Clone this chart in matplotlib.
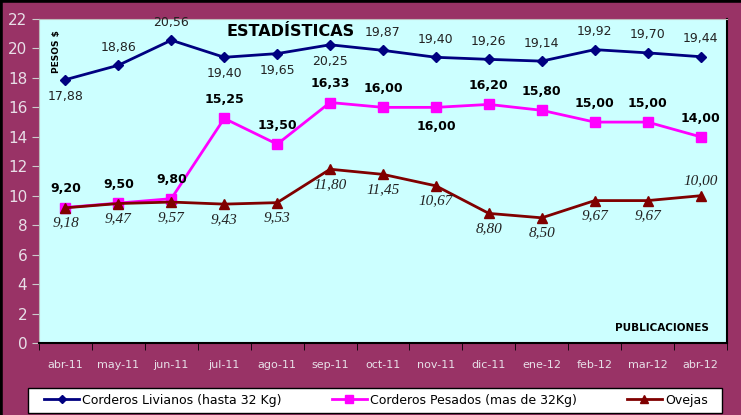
import matplotlib
matplotlib.use("Agg")
import matplotlib.pyplot as plt
from matplotlib.lines import Line2D
from matplotlib.patches import Rectangle

months = ["abr-11", "may-11", "jun-11", "jul-11", "ago-11", "sep-11", "oct-11",
          "nov-11", "dic-11", "ene-12", "feb-12", "mar-12", "abr-12"]
livianos = [17.88, 18.86, 20.56, 19.40, 19.65, 20.25, 19.87, 19.40, 19.26, 19.14, 19.92, 19.70, 19.44]
pesados = [9.20, 9.50, 9.80, 15.25, 13.50, 16.33, 16.00, 16.00, 16.20, 15.80, 15.00, 15.00, 14.00]
ovejas = [9.18, 9.47, 9.57, 9.43, 9.53, 11.80, 11.45, 10.67, 8.80, 8.50, 9.67, 9.67, 10.00]

# label above (1) or below (-1)
liv_pos = [-1, 1, 1, -1, -1, -1, 1, 1, 1, 1, 1, 1, 1]
pes_pos = [1, 1, 1, 1, 1, 1, 1, -1, 1, 1, 1, 1, 1]
ove_pos = [-1] * 12 + [1]

BG = "#993366"
PLOT_BG = "#ccffff"
TICK_C = "#e8e0e8"

fig = plt.figure(figsize=(7.41, 4.15), dpi=100)
fig.patch.set_facecolor(BG)
ax = fig.add_axes([39 / 741, 1 - 343 / 415, (727 - 39) / 741, (343 - 19) / 415])
ax.set_facecolor(PLOT_BG)

x = list(range(len(months)))
ax.plot(x, livianos, color="#000080", lw=2, marker="D", ms=5, label="Corderos Livianos (hasta 32 Kg)")
ax.plot(x, pesados, color="#ff00ff", lw=2, marker="s", ms=7, label="Corderos Pesados (mas de 32Kg)")
ax.plot(x, ovejas, color="#800000", lw=2, marker="^", ms=7, label="Ovejas")

def fmt(v):
    return f"{v:.2f}".replace(".", ",")

for xi, v, p in zip(x, livianos, liv_pos):
    ax.annotate(fmt(v), (xi, v), xytext=(0, (13 if p > 0 else 12) * p), textcoords="offset points",
                ha="center", va="center", fontsize=9, color="#222222")
for xi, v, p in zip(x, pesados, pes_pos):
    ax.annotate(fmt(v), (xi, v), xytext=(0, 13.5 * p), textcoords="offset points",
                ha="center", va="center", fontsize=9, fontweight="bold",
                color="black")
for xi, v, p in zip(x, ovejas, ove_pos):
    ax.annotate(fmt(v), (xi, v), xytext=(0, 11 * p), textcoords="offset points",
                ha="center", va="center", fontsize=11, style="italic",
                family="Liberation Serif", color="#222222")

ax.set_xlim(-0.5, len(months) - 0.5)
ax.set_ylim(0, 22)
ax.set_yticks(range(0, 23, 2))
ax.set_xticks(x)
ax.set_xticklabels(months)
ax.set_xticks([i - 0.5 for i in range(len(months) + 1)], minor=True)
ax.tick_params(axis="x", which="major", length=0, pad=12, labelsize=8, labelcolor=TICK_C)
ax.tick_params(axis="x", which="minor", length=5, color="black", direction="out")
ax.tick_params(axis="y", length=5, labelsize=11, labelcolor=TICK_C, color="#cccccc")
for s in ["left", "top"]:
    ax.spines[s].set_color("#bbbbbb")
for s in ["right", "bottom"]:
    ax.spines[s].set_color("black")
    ax.spines[s].set_linewidth(1.5)

ax.text(0.366, 0.96, "ESTADÍSTICAS", transform=ax.transAxes, fontsize=11.5,
        fontweight="bold", ha="center", va="center")
ax.text(0.026, 0.9, "PESOS $", transform=ax.transAxes, fontsize=6.5,
        fontweight="bold", rotation=90, ha="center", va="center")
ax.text(0.905, 0.046, "PUBLICACIONES", transform=ax.transAxes, fontsize=7.5,
        fontweight="bold", ha="center", va="center")

# legend frame drawn by hand so it spans the same width as the reference
fig.add_artist(Rectangle((28 / 741, 1 - 413 / 415), 694 / 741, 25 / 415,
                         transform=fig.transFigure, facecolor="white",
                         edgecolor="black", lw=1, zorder=1))
handles, labels = ax.get_legend_handles_labels()
leg = fig.legend(handles, labels, loc="center", ncol=3,
                 bbox_to_anchor=(376 / 741, 1 - 400 / 415), frameon=False,
                 fontsize=9, handlelength=2.8, columnspacing=4.0, borderpad=0.3,
                 handletextpad=0.25, markerscale=0.8, borderaxespad=0)
leg.set_zorder(2)

# black border on top and left edges
fig.add_artist(Line2D([0, 1], [1, 1], transform=fig.transFigure, color="black", lw=4))
fig.add_artist(Line2D([0, 0], [0, 1], transform=fig.transFigure, color="black", lw=4))

fig.savefig("out.png", dpi=100, facecolor=BG)
